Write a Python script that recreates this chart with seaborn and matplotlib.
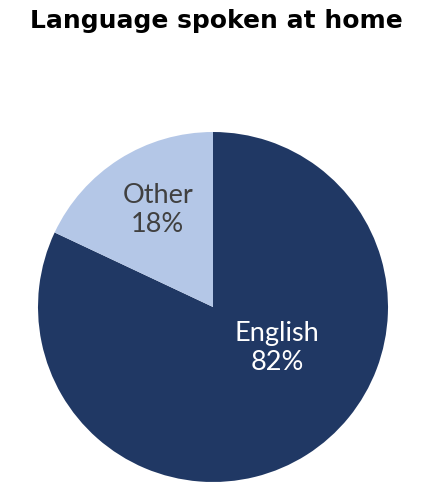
import matplotlib
matplotlib.use("Agg")
import matplotlib.pyplot as plt
import seaborn as sns

# Share of residents by language spoken at home
categories = ["English", "Other"]
shares = [82, 18]
slice_colors = ["#203864", "#B4C7E7"]
label_colors = ["white", "#404040"]

sns.set_theme(style="white")
plt.rcParams["font.family"] = ["Lato", "DejaVu Sans"]
palette = sns.color_palette(slice_colors)

fig = plt.figure(figsize=(4.32, 4.82), dpi=100)
ax = fig.add_axes([38 / 432, 0.0, 350 / 432, 350 / 482])

wedges, _ = ax.pie(
    shares,
    colors=palette,
    startangle=90,
    counterclock=False,
    radius=1.0,
    wedgeprops=dict(linewidth=0),
)
ax.set_xlim(-1, 1)
ax.set_ylim(-1, 1)
ax.set_aspect("equal")
ax.axis("off")

# Slice labels, placed inside each wedge
label_pos = {"English": (0.365, -0.235), "Other": (-0.315, 0.555)}
for name, val, col in zip(categories, shares, label_colors):
    x, y = label_pos[name]
    ax.text(x, y, f"{name}\n{val}%", ha="center", va="center",
            color=col, fontsize=19.5, linespacing=1.2, fontweight="normal")

fig.text(0.5, 1 - 21 / 482, "Language spoken at home", ha="center", va="center",
         fontsize=18, fontweight="bold", color="black", family="DejaVu Sans")

fig.savefig("out.png", dpi=100)
